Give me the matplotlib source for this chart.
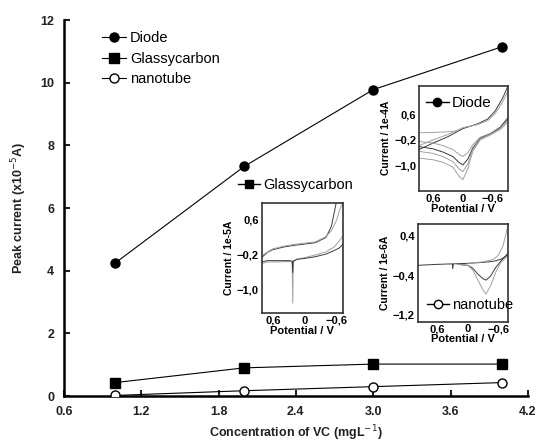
import matplotlib
matplotlib.use("Agg")
import matplotlib.pyplot as plt
from matplotlib.lines import Line2D

plt.rcParams['font.family'] = ['Liberation Sans', 'DejaVu Sans']

# --- main data: peak current vs VC concentration ---
conc = [1.0, 2.0, 3.0, 4.0]
diode = [4.25, 7.33, 9.78, 11.15]
glassy = [0.43, 0.90, 1.02, 1.02]
nanotube = [0.02, 0.17, 0.30, 0.43]

xticks_main = [0.6, 1.2, 1.8, 2.4, 3.0, 3.6, 4.2]
xticklabels_main = ['0.6', '1.2', '1.8', '2.4', '3.0', '3.6', '4.2']
yticks_main = [0, 2, 4, 6, 8, 10, 12]

# --- inset CVs ---
# diode, 1e-4 A
d_up_x = [0.88, 0.6, 0.3, 0.0, -0.3, -0.5, -0.65, -0.8, -0.9]
d_up1_y = [-0.5, -0.3, -0.1, 0.15, 0.3, 0.45, 0.7, 1.1, 1.45]
d_up2_y = [-0.38, -0.2, -0.03, 0.18, 0.28, 0.4, 0.62, 0.98, 1.3]
d_flat_x = [0.88, 0.6, 0.3, 0.13]
d_flat_y = [0.02, 0.03, 0.05, 0.08]
d_dn_x = [0.88, 0.6, 0.4, 0.2, 0.08, 0.0, -0.1, -0.2, -0.35, -0.55, -0.75, -0.9]
d_dn1_y = [-0.25, -0.3, -0.38, -0.5, -0.65, -0.72, -0.6, -0.35, -0.12, 0.0, 0.2, 0.5]
d_dn2_y = [-0.41, -0.48, -0.58, -0.72, -0.9, -0.98, -0.8, -0.45, -0.15, -0.02, 0.18, 0.45]
d_dn3_y = [-0.56, -0.62, -0.72, -0.88, -1.1, -1.19, -0.95, -0.5, -0.17, -0.03, 0.15, 0.4]
d_dn4_y = [-0.77, -0.82, -0.9, -1.05, -1.33, -1.44, -1.1, -0.55, -0.2, -0.05, 0.12, 0.35]

# glassy carbon, 1e-5 A
g_up1_x = [0.81, 0.7, 0.6, 0.4, 0.2, 0.0, -0.2, -0.4, -0.5, -0.56, -0.6]
g_up1_y = [-0.26, -0.14, -0.08, -0.02, 0.02, 0.05, 0.08, 0.2, 0.45, 0.8, 1.05]
g_up2_x = [0.81, 0.6, 0.4, 0.2, 0.0, -0.2, -0.4, -0.5, -0.6, -0.66, -0.72]
g_up2_y = [-0.22, -0.06, 0.0, 0.04, 0.07, 0.1, 0.22, 0.35, 0.6, 0.85, 1.0]
g_dn_x = [0.81, 0.7, 0.5, 0.3, 0.235, 0.225, 0.215, 0.15, 0.0, -0.2, -0.4, -0.55, -0.65, -0.72]
g_dn1_y = [-0.4, -0.36, -0.36, -0.35, -0.36, -1.3, -0.36, -0.3, -0.26, -0.2, -0.13, -0.02, 0.12, 0.24]
g_dn2_y = [-0.36, -0.33, -0.33, -0.33, -0.34, -0.6, -0.34, -0.3, -0.28, -0.24, -0.18, -0.1, -0.04, 0.05]

# nanotube, 1e-6 A
n_base_x = [1.0, 0.6, 0.31, 0.3, 0.29, 0.0, -0.3, -0.5, -0.65, -0.8]
n_base_y = [-0.2, -0.18, -0.17, -0.27, -0.17, -0.16, -0.14, -0.12, -0.08, 0.01]
n_up_x = [0.0, -0.3, -0.5, -0.6, -0.7, -0.8]
n_up_y = [-0.16, -0.13, -0.08, 0.0, 0.2, 0.62]
n_dip_x = [0.2, 0.0, -0.1, -0.2, -0.3, -0.36, -0.45, -0.55, -0.65, -0.8]
n_dip1_y = [-0.18, -0.2, -0.26, -0.38, -0.47, -0.5, -0.42, -0.25, -0.12, 0.05]
n_dip2_y = [-0.18, -0.2, -0.3, -0.5, -0.7, -0.78, -0.62, -0.35, -0.15, 0.0]

fig = plt.figure(figsize=(5.36, 4.46), dpi=100)
ax = fig.add_axes([0.119, 0.112, 0.866, 0.843])

ax.plot(conc, diode, '-', color='black', lw=0.8, marker='o', ms=6.5,
        mfc='black', mec='black', label='Diode', zorder=3)
ax.plot(conc, glassy, '-', color='black', lw=0.8, marker='s', ms=6.5,
        mfc='black', mec='black', label='Glassycarbon', zorder=3)
ax.plot(conc, nanotube, '-', color='black', lw=0.8, marker='o', ms=6.5,
        mfc='white', mec='black', label='nanotube', zorder=3)

ax.set_xlim(0.6, 4.2)
ax.set_ylim(0, 12)
ax.set_xticks(xticks_main)
ax.set_xticklabels(xticklabels_main)
ax.set_yticks(yticks_main)
ax.tick_params(direction='in', length=4, width=1.5, labelsize=9, colors='#222')
ax.tick_params(axis='x', pad=7)
ax.tick_params(axis='y', pad=7)
for lab in ax.get_xticklabels() + ax.get_yticklabels():
    lab.set_fontweight('bold')
for s in ['top', 'right']:
    ax.spines[s].set_visible(False)
for s in ['left', 'bottom']:
    ax.spines[s].set_linewidth(1.8)

ax.set_xlabel('Concentration of VC (mgL$^{-1}$)', fontsize=9, fontweight='bold',
              color='#222', labelpad=4)
ax.set_ylabel('Peak current (x10$^{-5}$A)', fontsize=9, fontweight='bold',
              color='#222', labelpad=8)

ax.legend(loc='upper left', bbox_to_anchor=(0.055, 1.005), frameon=False,
          fontsize=10.5, handlelength=1.6, handletextpad=0.3, labelspacing=0.45)

dark = '#3a3a3a'
light = '#a0a0a0'


def style_inset(a, ylabel, xlim, ylim, yticks, yticklabels):
    a.set_xlim(*xlim)
    a.set_ylim(*ylim)
    a.set_xticks([0.6, 0.0, -0.6])
    a.set_xticklabels(['0,6', '0', '\u22120,6'])
    a.set_yticks(yticks)
    a.set_yticklabels(yticklabels)
    a.tick_params(length=0, pad=2, labelsize=8)
    for lab in a.get_xticklabels() + a.get_yticklabels():
        lab.set_fontweight('bold')
    for s in a.spines.values():
        s.set_linewidth(1.2)
        s.set_color('#333')
    a.set_ylabel(ylabel, fontsize=7.5, fontweight='bold', labelpad=2)
    a.set_xlabel('Potential / V', fontsize=8, fontweight='bold', labelpad=0)
    a.patch.set_alpha(0)


# diode inset
axd = fig.add_axes([0.782, 0.572, 0.165, 0.236])
axd.plot(d_up_x, d_up1_y, color=dark, lw=0.7)
axd.plot(d_up_x, d_up2_y, color=light, lw=0.7)
axd.plot(d_flat_x, d_flat_y, color=light, lw=0.7)
for yy, c in [(d_dn1_y, light), (d_dn2_y, dark), (d_dn3_y, light), (d_dn4_y, light)]:
    axd.plot(d_dn_x, yy, color=c, lw=0.7)
style_inset(axd, 'Current / 1e-4A', (0.88, -0.9), (-1.79, 1.49),
            [0.6, -0.2, -1.0], ['0,6', '\u22120,2', '\u22121,0'])
axd.legend(handles=[Line2D([], [], color='black', marker='o', ms=6, lw=1)],
           labels=['Diode'], loc='upper left', bbox_to_anchor=(-0.08, 1.03),
           frameon=False, fontsize=11, handlelength=1.5, handletextpad=0.2)

# glassy carbon inset
axg = fig.add_axes([0.488, 0.298, 0.152, 0.246])
axg.plot(g_up1_x, g_up1_y, color=dark, lw=0.7)
axg.plot(g_up2_x, g_up2_y, color=light, lw=0.7)
axg.plot(g_dn_x, g_dn1_y, color=light, lw=0.7)
axg.plot(g_dn_x, g_dn2_y, color=dark, lw=0.7)
style_inset(axg, 'Current / 1e-5A', (0.81, -0.72), (-1.53, 0.98),
            [0.6, -0.2, -1.0], ['0,6', '\u22120,2', '\u22121,0'])
axg.legend(handles=[Line2D([], [], color='black', marker='s', ms=6, lw=1)],
           labels=['Glassycarbon'], loc='lower left', bbox_to_anchor=(-0.45, 0.98),
           frameon=False, fontsize=10.5, handlelength=1.5, handletextpad=0.2)

# nanotube inset
axn = fig.add_axes([0.779, 0.279, 0.169, 0.219])
axn.plot(n_base_x, n_base_y, color=dark, lw=0.7)
axn.plot(n_up_x, n_up_y, color=light, lw=0.7)
axn.plot(n_dip_x, n_dip1_y, color=dark, lw=0.7)
axn.plot(n_dip_x, n_dip2_y, color=light, lw=0.7)
style_inset(axn, 'Current / 1e-6A', (1.0, -0.8), (-1.34, 0.64),
            [0.4, -0.4, -1.2], ['0,4', '\u22120,4', '\u22121,2'])
axn.legend(handles=[Line2D([], [], color='black', marker='o', mfc='white', ms=6, lw=1)],
           labels=['nanotube'], loc='lower left', bbox_to_anchor=(-0.04, -0.04),
           frameon=False, fontsize=10.5, handlelength=1.5, handletextpad=0.2)

fig.savefig('out.png', dpi=100)
